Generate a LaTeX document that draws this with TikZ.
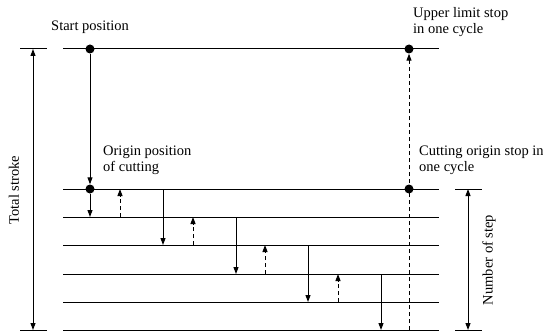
\documentclass[tikz,border=0pt]{standalone}
\usepackage{fontspec}
\setmainfont{Liberation Serif}
\usepackage{tikz}
\usetikzlibrary{arrows.meta, positioning, calc}

\begin{document}
\begin{tikzpicture}[x=1pt, y=-1pt, font=\fontsize{14.5}{16}\selectfont,
          lvl/.style={line width=1pt},
          tick/.style={line width=1pt},
          dot/.style={circle, fill=black, inner sep=0pt, minimum size=9pt},
          feed/.style={line width=1pt, -{Triangle[length=7pt, width=5pt]}},
          back/.style={line width=1pt, dash pattern=on 4pt off 3pt, -{Triangle[length=7pt, width=5pt]}},
          dim/.style={line width=1pt, {Triangle[length=7pt, width=5pt]}-{Triangle[length=7pt, width=5pt]}}]
          \useasboundingbox (0,0) rectangle (543,334);
          % levels
          \draw[lvl] (63,49) coordinate (T) -- (439,49);
          \foreach \i/\y in {0/189,1/217,2/245,3/274,4/302,5/330}
            \draw[lvl] (63,\y) coordinate (L\i) -- (439,\y);
          % stops
          \node[dot] (start) at (90,49) {};
          \node[dot] (origin) at (90,189) {};
          \node[dot] (upper) at (409,49) {};
          \node[dot] (cstop) at (409,189) {};
          \draw[feed] (start) -- (origin);
          \draw[feed] (origin) -- (origin |- L1);
          \foreach \x/\a/\b in {163/0/2, 236/1/3, 308/2/4, 381/3/5}
            \draw[feed] (\x,0 |- L\a) -- (\x,0 |- L\b);
          \foreach \x/\a/\b in {120/1/0, 193/2/1, 265/3/2, 338/4/3}
            \draw[back] (\x,0 |- L\a) -- (\x,0 |- L\b);
          \draw[back] (409,0 |- L5) coordinate (E) -- (upper);
          % total stroke
          \draw[tick] (20,49) coordinate (ta) -- (47,49);
          \draw[tick] (20,330) coordinate (tb) -- (47,330);
          \draw[dim] (33,49) -- (33,330);
          \node[rotate=90] (total) at (14,190) {Total stroke};
          % number of step
          \draw[tick] (455,189) coordinate (na) -- (482,189);
          \draw[tick] (455,330) coordinate (nb) -- (482,330);
          \draw[dim] (468,189) -- (468,330);
          \node[rotate=90] (nstep) at (489,260) {Number of step};
          % labels
          \node[anchor=west, inner sep=0pt] (startlbl) at (51,27) {Start position};
          \node[anchor=west, align=left, inner sep=0pt] (upperlbl) at (413,22) {Upper limit stop\\in one cycle};
          \node[anchor=west, align=left, inner sep=0pt] (originlbl) at (103,160) {Origin position\\of cutting};
          \node[anchor=west, align=left, inner sep=0pt] (cstoplbl) at (419,160) {Cutting origin stop in\\one cycle};
        \end{tikzpicture}
\end{document}
